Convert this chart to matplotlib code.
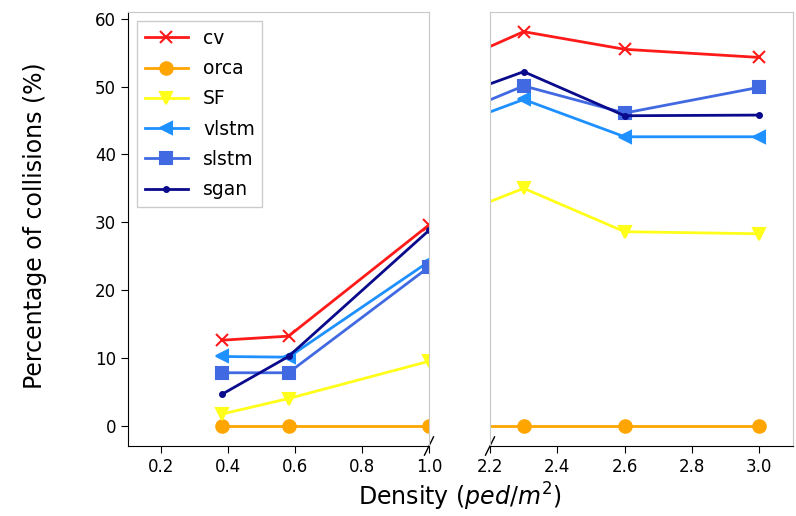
import matplotlib
matplotlib.use("Agg")
import matplotlib.pyplot as plt

density = [0.38, 0.58, 1.0, 2.3, 2.6, 3.0]
series_names = ["cv", "orca", "SF", "vlstm", "slstm", "sgan"]
cv = [12.6, 13.2, 29.6, 58.1, 55.5, 54.3]
orca = [0.0, 0.0, 0.0, 0.0, 0.0, 0.0]
sf = [1.7, 4.0, 9.5, 35.0, 28.6, 28.3]
vlstm = [10.2, 10.1, 24.2, 48.1, 42.6, 42.6]
slstm = [7.8, 7.8, 23.4, 50.1, 46.1, 49.9]
sgan = [4.6, 10.2, 28.8, 52.2, 45.7, 45.8]

values = [cv, orca, sf, vlstm, slstm, sgan]
colors = ["#ff1a1a", "#ffa500", "#ffff1a", "#1e90ff", "#4169e1", "#0a0a8c"]
markers = ["x", "o", "v", "<", "s", "."]
msizes = [9, 9, 9, 9, 9, 7]

W, H = 796, 516
fig = plt.figure(figsize=(W / 100, H / 100), dpi=100)
ax1 = fig.add_axes([128 / W, (H - 446) / H, 301 / W, 434 / H])
ax2 = fig.add_axes([490 / W, (H - 446) / H, 303 / W, 434 / H])

for ax in (ax1, ax2):
    for name, vals, c, m, ms in zip(series_names, values, colors, markers, msizes):
        ax.plot(density, vals, color=c, marker=m, markersize=ms, linewidth=2,
                markeredgewidth=1.5, label=name)
    ax.set_ylim(-3, 61)
    ax.tick_params(labelsize=12, length=5)
    for s in ("top", "right", "left"):
        ax.spines[s].set_color("#c8c8c8")
    ax.spines["bottom"].set_color("black")

ax1.spines["left"].set_color("black")
ax1.set_xlim(0.1, 1.0)
ax2.set_xlim(2.2, 3.1)
ax1.set_xticks([0.2, 0.4, 0.6, 0.8, 1.0])
ax2.set_xticks([2.2, 2.4, 2.6, 2.8, 3.0])
ax1.set_yticks([0, 10, 20, 30, 40, 50, 60])
ax2.tick_params(left=False, labelleft=False)

# break marks
d = 0.015
kw = dict(color="black", clip_on=False, linewidth=1)
ax1.plot((1 - d, 1 + d), (-d * 1.4, d * 1.4), transform=ax1.transAxes, **kw)
ax2.plot((-d, d), (-d * 1.4, d * 1.4), transform=ax2.transAxes, **kw)

ax1.legend(loc="upper left", fontsize=13.5, framealpha=1, edgecolor="#cccccc",
           fancybox=False, handlelength=2.3, labelspacing=0.6,
           handletextpad=0.8, borderpad=0.4, borderaxespad=0.5)

fig.text(35 / W, 1 - 226 / H, "Percentage of collisions (%)", rotation=90,
         ha="center", va="center", fontsize=17)
fig.text(460 / W, 1 - 497 / H, "Density ($ped/m^2$)", ha="center", va="center",
         fontsize=17)

fig.savefig("out.png", dpi=100, facecolor="white")
